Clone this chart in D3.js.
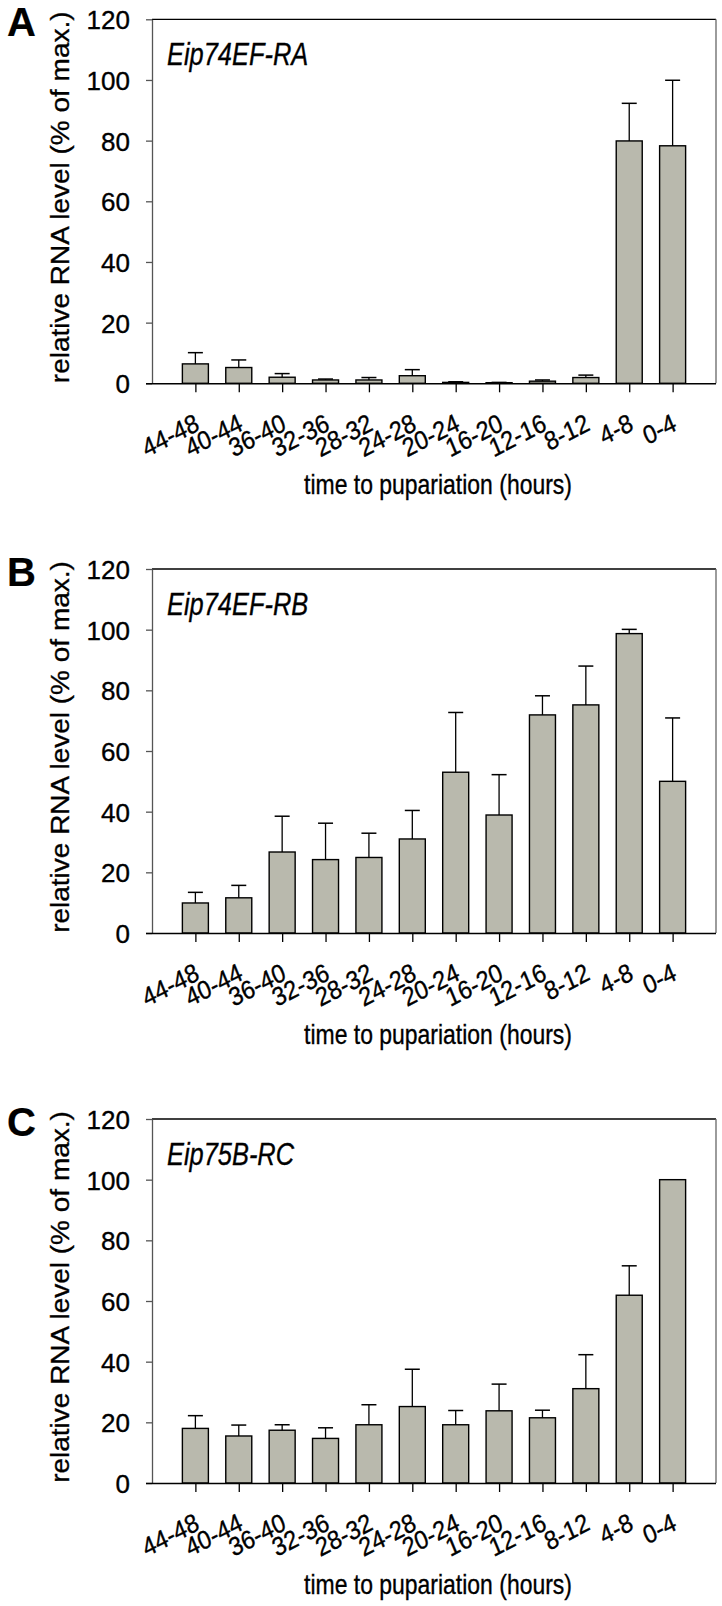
<!DOCTYPE html>
<html><head><meta charset="utf-8">
<script src="https://cdn.jsdelivr.net/npm/d3@7"></script>
<style>
html,body{margin:0;padding:0;background:#fff;}
svg text{font-family:"Liberation Sans",Arial,Helvetica,sans-serif;fill:#000;stroke:#000;stroke-width:0.35px;}
</style>
</head><body>
<svg id="chart" width="722" height="1606"></svg>
<script>
const categories = ["44-48","40-44","36-40","32-36","28-32","24-28","20-24","16-20","12-16","8-12","4-8","0-4"];
const yTicks = [0,20,40,60,80,100,120];
const panelLetters = ["A","B","C"];
const geneNames = ["Eip74EF-RA","Eip74EF-RB","Eip75B-RC"];
const valuesA = [6.4,5.2,2.0,1.1,1.1,2.5,0.3,0.2,0.7,1.9,79.9,78.3];
const errorsA = [3.7,2.5,1.2,0.3,0.8,2.0,0.2,0.1,0.4,0.8,12.4,21.6];
const valuesB = [9.9,11.6,26.7,24.2,24.9,31.0,53.0,38.9,71.9,75.2,98.7,50.0];
const errorsB = [3.5,4.1,11.8,12.0,8.0,9.4,19.7,13.3,6.3,12.8,1.4,20.9];
const valuesC = [18.0,15.5,17.4,14.7,19.2,25.2,19.2,23.8,21.5,31.1,61.9,100];
const errorsC = [4.2,3.6,1.8,3.5,6.6,12.3,4.7,8.8,2.5,11.2,9.7,0];
const yLabel = "relative RNA level (% of max.)";
const xLabel = "time to pupariation (hours)";

const panels = [
  {letter: panelLetters[0], gene: geneNames[0], values: valuesA, errors: errorsA},
  {letter: panelLetters[1], gene: geneNames[1], values: valuesB, errors: errorsB},
  {letter: panelLetters[2], gene: geneNames[2], values: valuesC, errors: errorsC}
];

const svg = d3.select("#chart");
const left = 152, right = 716, plotH = 364;
const tops = [19.3, 569, 1119];
const barW = 26, capW = 15;
const barFill = "#b9b9ad";

panels.forEach((p, i) => {
  const top = tops[i], bottom = top + plotH;
  const g = svg.append("g");
  const x = d3.scalePoint().domain(categories).range([left, right]).padding(1);
  const y = d3.scaleLinear().domain([0, 120]).range([bottom, top]);

  // frame: top + right
  g.append("line").attr("x1", left).attr("x2", right).attr("y1", top).attr("y2", top)
    .attr("stroke", "#000").attr("stroke-width", 1.3);
  g.append("line").attr("x1", right).attr("x2", right).attr("y1", top).attr("y2", bottom)
    .attr("stroke", "#666").attr("stroke-width", 1.3);

  // bars
  g.selectAll("rect.bar").data(p.values).enter().append("rect")
    .attr("x", (d, j) => x(categories[j]) - barW / 2)
    .attr("width", barW)
    .attr("y", d => y(d))
    .attr("height", d => y(0) - y(d))
    .attr("fill", barFill).attr("stroke", "#000").attr("stroke-width", 1.4);

  // error bars (upward)
  const eb = g.selectAll("g.err").data(p.values.map((v, j) => ({v, e: p.errors[j], c: categories[j]})).filter(d => d.e > 0))
    .enter().append("g");
  eb.append("line").attr("x1", d => x(d.c)).attr("x2", d => x(d.c))
    .attr("y1", d => y(d.v)).attr("y2", d => y(d.v + d.e))
    .attr("stroke", "#000").attr("stroke-width", 1.3);
  eb.append("line").attr("x1", d => x(d.c) - capW / 2).attr("x2", d => x(d.c) + capW / 2)
    .attr("y1", d => y(d.v + d.e)).attr("y2", d => y(d.v + d.e))
    .attr("stroke", "#000").attr("stroke-width", 1.5);

  // y axis
  const ya = g.append("g").attr("transform", `translate(${left},0)`)
    .call(d3.axisLeft(y).tickValues(yTicks).tickSize(6).tickPadding(16).tickSizeOuter(0));
  ya.select(".domain").attr("stroke", "#555").attr("stroke-width", 1.3);
  ya.selectAll(".tick line").attr("stroke", "#555").attr("stroke-width", 1.3);
  ya.selectAll(".tick text").attr("font-size", 26).attr("font-family", null).attr("dy", "0.36em");

  // x axis
  const xa = g.append("g").attr("transform", `translate(0,${bottom})`)
    .call(d3.axisBottom(x).tickSize(9).tickSizeOuter(0).tickPadding(6));
  xa.select(".domain").attr("d", `M${left - 6},0.5H${right}`).attr("stroke", "#000").attr("stroke-width", 1.4);
  xa.selectAll(".tick line").attr("stroke", "#000").attr("stroke-width", 1.3);
  xa.selectAll(".tick text").attr("font-size", 26).attr("font-family", null)
    .attr("text-anchor", "end").attr("dy", null).attr("x", 0).attr("y", 0)
    .attr("transform", "translate(5,46) scale(0.9,1) rotate(-25)");

  // titles
  g.append("text").attr("transform", `translate(438,${bottom + 111}) scale(0.82,1)`)
    .attr("text-anchor", "middle").attr("font-size", 28).text(xLabel);
  g.append("text").attr("transform", `translate(69,${(top + bottom) / 2 - 4}) scale(0.9,1) rotate(-90)`)
    .attr("text-anchor", "middle").attr("font-size", 28).text(yLabel);
  g.append("text").attr("transform", `translate(167,${top + 46}) scale(0.82,1)`)
    .attr("font-size", 31).attr("font-style", "italic").text(p.gene);
  g.append("text").attr("x", 7).attr("y", top + 17).attr("font-size", 40)
    .attr("font-weight", "bold").style("stroke-width", "0.2px").text(p.letter);
});
</script>
</body></html>
